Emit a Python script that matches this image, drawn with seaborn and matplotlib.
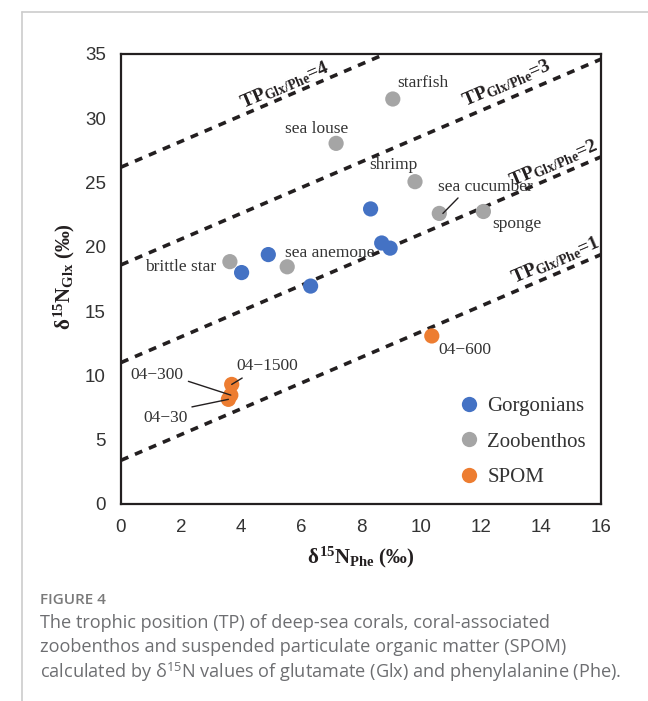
import numpy as np
import pandas as pd
import matplotlib
matplotlib.use("Agg")
import matplotlib.pyplot as plt
import seaborn as sns
from matplotlib.lines import Line2D

# ---------------- data ----------------
gorg_x = [4.02, 4.91, 6.32, 8.32, 8.69, 8.97]
gorg_y = [18.0, 19.4, 16.95, 22.95, 20.3, 19.9]

zoo_names = ["starfish", "sea louse", "shrimp", "sea cucumber", "sponge", "brittle star", "sea anemone"]
zoo_x = [9.06, 7.17, 9.80, 10.61, 12.08, 3.63, 5.54]
zoo_y = [31.5, 28.05, 25.07, 22.6, 22.75, 18.85, 18.45]

spom_names = ["04\u221230", "04\u2212300", "04\u2212600", "04\u22121500"]
spom_x = [3.58, 3.66, 10.36, 3.69]
spom_y = [8.14, 8.47, 13.07, 9.30]

tp_levels = [1, 2, 3, 4]
tp_intercepts = [3.4, 11.0, 18.6, 26.2]

groups = ["Gorgonians", "Zoobenthos", "SPOM"]
palette = {"Gorgonians": "#4472C4", "Zoobenthos": "#A5A5A5", "SPOM": "#ED7D31"}

xticks = [0, 2, 4, 6, 8, 10, 12, 14, 16]
yticks = [0, 5, 10, 15, 20, 25, 30, 35]

df = pd.DataFrame({
    "x": gorg_x + zoo_x + spom_x,
    "y": gorg_y + zoo_y + spom_y,
    "group": ["Gorgonians"] * len(gorg_x) + ["Zoobenthos"] * len(zoo_x) + ["SPOM"] * len(spom_x),
})

# ---------------- style ----------------
sns.set_style("white")
plt.rcParams["mathtext.fontset"] = "custom"
plt.rcParams["mathtext.rm"] = "Liberation Serif:bold"
plt.rcParams["mathtext.it"] = "Liberation Serif:bold"
plt.rcParams["mathtext.bf"] = "Liberation Serif:bold"
plt.rcParams["mathtext.sf"] = "Open Sans"
plt.rcParams["font.family"] = ["Liberation Sans", "DejaVu Sans"]

W, H = 648, 701
fig = plt.figure(figsize=(W / 100, H / 100), dpi=100)
L, R, T, B = 121, 601, 54, 504
ax = fig.add_axes([L / W, 1 - B / H, (R - L) / W, (B - T) / H])

dark = "#231f20"
serif = "Liberation Serif"

# TP lines
for b in tp_intercepts:
    ax.axline((0, b), slope=1, color=dark, lw=2.6, linestyle=(0, (2.2, 2.0)), zorder=1)

sns.scatterplot(data=df, x="x", y="y", hue="group", hue_order=groups, palette=palette,
                s=120, edgecolor="none", linewidth=0, ax=ax, zorder=3, legend=False)

ax.set_xlim(0, 16)
ax.set_ylim(0, 35)
ax.set_xticks(xticks)
ax.set_yticks(yticks)
ax.tick_params(direction="out", length=6, width=1.4, color=dark, labelsize=13.5,
               labelcolor="#333333", pad=5)
for sp in ax.spines.values():
    sp.set_color(dark)
    sp.set_linewidth(1.6)
    sp.set_visible(True)

ax.set_xlabel(r"$\delta^{15}$N$_{\mathrm{Phe}}$ (‰)", fontsize=15, fontfamily=serif,
              fontweight="bold", color=dark)
ax.set_ylabel(r"$\delta^{15}$N$_{\mathrm{Glx}}$ (‰)", fontsize=15, fontfamily=serif,
              fontweight="bold", color=dark)
ax.xaxis.label.set_va("center")
ax.yaxis.label.set_va("center")
ax.xaxis.set_label_coords((361 - L) / (R - L), -(557 - B) / (B - T))
ax.yaxis.set_label_coords(-(L - 64) / (R - L), (B - 277) / (B - T))

# TP labels
ang = np.degrees(np.arctan(12.857 / 30))
tp_label_pos = {4: (5.47, 32.55), 3: (12.86, 32.7), 2: (14.41, 26.5), 1: (14.47, 18.98)}
for lvl in tp_levels:
    px, py = tp_label_pos[lvl]
    ax.text(px, py, r"$\mathrm{TP}_{\mathrm{Glx/Phe}}$" + f"={lvl}", fontsize=14,
            fontfamily=serif, fontweight="bold", color=dark, rotation=ang,
            rotation_mode="anchor", ha="center", va="center", zorder=4)

# point labels
tcol = "#333333"
fs_lab = 12.5
zoo_label_pos = {
    "starfish": (10.06, 32.75),
    "sea louse": (6.52, 29.14),
    "shrimp": (9.08, 26.37),
    "sponge": (13.19, 21.78),
    "brittle star": (1.97, 18.46),
    "sea anemone": (6.97, 19.50),
}
for name, (tx, ty) in zoo_label_pos.items():
    ax.text(tx, ty, name, fontsize=fs_lab, fontfamily=serif, color=tcol, ha="center", va="center", zorder=5)

i = zoo_names.index("sea cucumber")
ax.annotate("sea cucumber", xy=(zoo_x[i] + 0.12, zoo_y[i]), xytext=(12.13, 24.68),
            fontsize=fs_lab, fontfamily=serif, color=tcol, ha="center", va="center",
            arrowprops=dict(arrowstyle="-", color=dark, lw=1.0, shrinkA=0, shrinkB=0,
                            relpos=(0.3, 0.3)), zorder=5)

spom_label = {
    "04\u221230": ((1.47, 6.71), (0.45, 0.8)),
    "04\u2212300": ((1.21, 10.03), (1.0, 0.2)),
    "04\u22121500": ((4.86, 10.73), (0.25, 0.1)),
}
for name, ((tx, ty), rp) in spom_label.items():
    j = spom_names.index(name)
    ax.annotate(name, xy=(spom_x[j], spom_y[j]), xytext=(tx, ty), fontsize=fs_lab,
                fontfamily=serif, color=tcol, ha="center", va="center",
                arrowprops=dict(arrowstyle="-", color=dark, lw=1.0, shrinkA=1, shrinkB=0,
                                relpos=rp), zorder=5)
ax.text(11.47, 11.97, "04\u2212600", fontsize=fs_lab, fontfamily=serif, color=tcol,
        ha="center", va="center", zorder=5)

# legend
handles = [Line2D([0], [0], marker="o", linestyle="none", markersize=11,
                  markerfacecolor=palette[g], markeredgecolor="none") for g in groups]
ax.legend(handles, groups, loc="upper left", bbox_to_anchor=(0.681, 0.258), frameon=False,
          prop={"family": serif, "size": 15}, labelcolor=tcol, handletextpad=0.3,
          handlelength=1.2, labelspacing=0.78, borderaxespad=0)

# figure frame and caption
fig.add_artist(Line2D([22 / W, 22 / W], [0, 1 - 12 / H], color="#cccccc", lw=1.2,
                      transform=fig.transFigure))
fig.add_artist(Line2D([22 / W, 1], [1 - 12 / H, 1 - 12 / H], color="#cccccc", lw=1.2,
                      transform=fig.transFigure))

cap_font = ["Open Sans", "DejaVu Sans"]
fig.text(40 / W, 1 - 600 / H, "FIGURE 4", fontsize=11, color="#7a7a7a", fontfamily=cap_font,
         fontweight="semibold", va="center", ha="left")
cap_lines = [
    "The trophic position (TP) of deep-sea corals, coral-associated",
    "zoobenthos and suspended particulate organic matter (SPOM)",
    r"calculated by $\mathsf{\delta}^{\mathsf{15}}$N values of glutamate (Glx) and phenylalanine (Phe).",
]
for k, line in enumerate(cap_lines):
    fig.text(40 / W, 1 - (623 + 24.5 * k) / H, line, fontsize=13.1, color="#6d6e71",
             fontfamily=cap_font, va="center", ha="left")

fig.savefig("out.png", dpi=100)
